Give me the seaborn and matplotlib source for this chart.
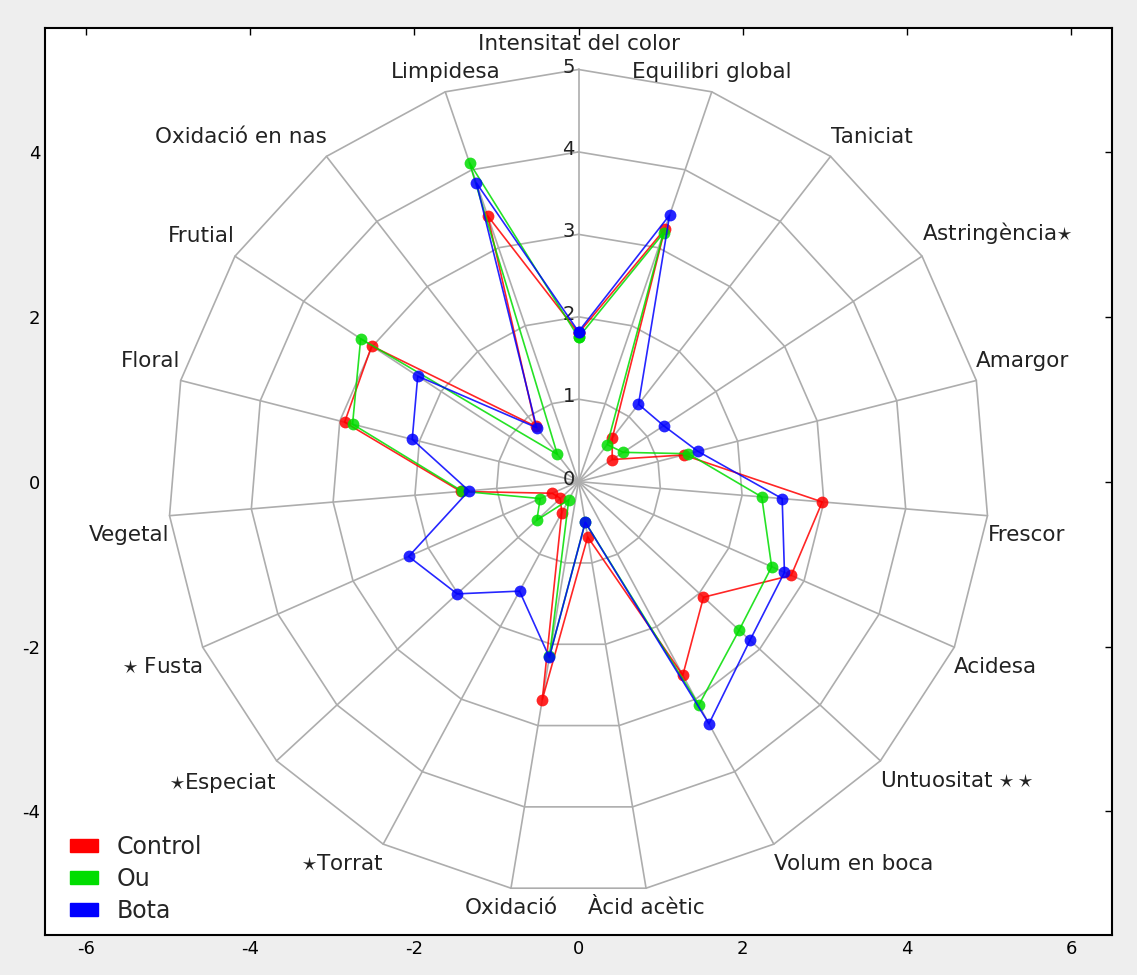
import seaborn as sns
import matplotlib.pyplot as plt
import pandas as pd
import numpy as np
from matplotlib.patches import Patch


categories = ['Intensitat del color', 'Equilibri global', 'Taniciat', r'Astringència$\star$',
              'Amargor', 'Frescor', 'Acidesa', r'Untuositat $\star\star$', 'Volum en boca',
              'Àcid acètic', 'Oxidació', r'$\star$Torrat', r'$\star$Especiat', r'$\star$ Fusta',
              'Vegetal', 'Floral', 'Frutial', 'Oxidació en nas', 'Limpidesa']

control = [1.80, 3.24, 0.67, 0.49, 1.32, 2.98, 2.83, 2.07, 2.67, 0.68,
           2.68, 0.43, 0.30, 0.35, 1.44, 2.94, 3.01, 0.85, 3.41]
ou = [1.75, 3.19, 0.57, 0.65, 1.38, 2.24, 2.57, 2.66, 3.08, 0.50,
      2.15, 0.25, 0.69, 0.51, 1.42, 2.84, 3.17, 0.42, 4.09]
bota = [1.82, 3.42, 1.19, 1.24, 1.50, 2.49, 2.74, 2.84, 3.34, 0.50,
        2.16, 1.51, 2.01, 2.26, 1.34, 2.09, 2.34, 0.83, 3.83]

series_names = ['Control', 'Ou', 'Bota']
series_colors = ['#ff0000', '#00dd00', '#0000ff']
rings = [1, 2, 3, 4, 5]

sns.set_style('white')
plt.rcParams['font.family'] = ['DejaVu Sans']
plt.rcParams['mathtext.fontset'] = 'cm'
plt.rcParams['axes.unicode_minus'] = False

n = len(categories)
angles = np.pi / 2 - 2 * np.pi * np.arange(n) / n

fig = plt.figure(figsize=(11.37, 9.75), dpi=100, facecolor='#eeeeee')
ax = fig.add_axes([0.0396, 0.041, 0.9384, 0.930])
ax.set_facecolor('white')

# polygon grid
closed = np.append(angles, angles[0])
for r in rings:
    ax.plot(r * np.cos(closed), r * np.sin(closed), color='#adadad', lw=1.2, zorder=1)
for a in angles:
    ax.plot([0, 5 * np.cos(a)], [0, 5 * np.sin(a)], color='#adadad', lw=1.2, zorder=1)

# radial values
for r in [0] + rings:
    ax.text(-0.12, r + 0.03, str(r), ha='center', va='center', fontsize=14, color='#222222', zorder=2)

# category labels
for a, lab in zip(angles, categories):
    c, s = np.cos(a), np.sin(a)
    ha = 'left' if c > 0.4 else ('right' if c < -0.4 else 'center')
    va = 'bottom' if s > 0 else 'top'
    off = 7 if s > 0 else -7
    if abs(c) < 0.1:
        off = 11
    ax.annotate(lab, (5 * c, 5 * s), xytext=(0, off), textcoords='offset points',
                ha=ha, va=va, fontsize=15.5, color='#222222')

# data
for name, vals, col in zip(series_names, [control, ou, bota], series_colors):
    v = np.append(vals, vals[0])
    df = pd.DataFrame({'x': v * np.cos(closed), 'y': v * np.sin(closed)})
    sns.lineplot(data=df, x='x', y='y', sort=False, estimator=None, color=col, lw=1.2,
                 marker='o', markersize=8.5, markeredgewidth=0, alpha=0.85, ax=ax, zorder=3)

ax.set_xlim(-6.5, 6.5)
ax.set_ylim(-5.5, 5.5)
ax.set_xticks([-6, -4, -2, 0, 2, 4, 6])
ax.set_yticks([-4, -2, 0, 2, 4])
ax.set_xlabel('')
ax.set_ylabel('')
ax.tick_params(direction='in', length=5, width=1, top=True, right=True, labelsize=13, colors='black')
for sp in ax.spines.values():
    sp.set_color('black')
    sp.set_linewidth(1.5)

handles = [Patch(facecolor=c, edgecolor=c) for c in series_colors]
ax.legend(handles, series_names, loc='lower left', bbox_to_anchor=(0.012, 0.0), frameon=False,
          fontsize=17, handlelength=1.2, handleheight=0.45, labelspacing=0.35, borderaxespad=0.1)

fig.savefig('out.png', dpi=100, facecolor=fig.get_facecolor())
